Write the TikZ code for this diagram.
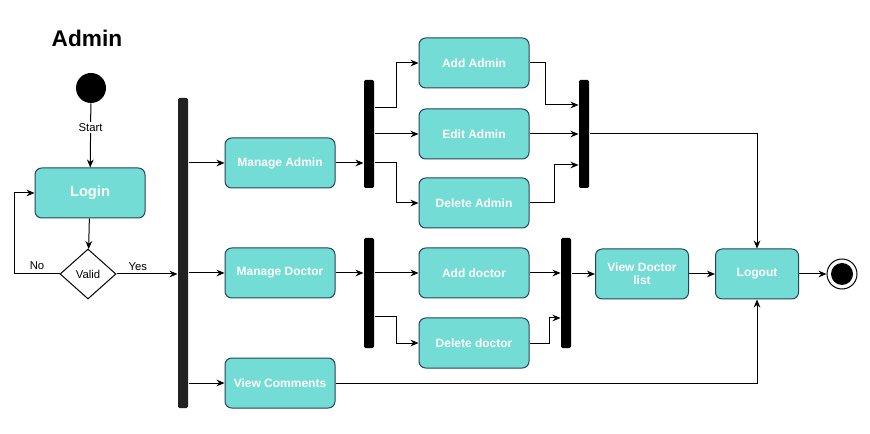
\documentclass[tikz,border=0pt]{standalone}
\usepackage{fontspec}
\setmainfont{Liberation Sans}
\usetikzlibrary{shapes.geometric, calc, arrows.meta}
\definecolor{boxfill}{HTML}{73DCD4}
\definecolor{boxline}{HTML}{23445D}
\definecolor{barfill}{HTML}{222222}

\begin{document}
\begin{tikzpicture}[x=0.75pt, y=-0.75pt, >={Stealth[length=6pt,width=5pt]}, line width=0.75pt,
    act/.style={draw=boxline, fill=boxfill, rounded corners=5pt, text=white, align=center,
      font=\fontsize{9}{10}\selectfont\bfseries, minimum width=82.5pt, minimum height=37.5pt, inner sep=1pt},
    bar/.style={fill=black, rounded corners=1pt, minimum width=7.5pt, inner sep=0pt},
    lbl/.style={font=\fontsize{8.5}{10}\selectfont, inner sep=1pt}]
  \useasboundingbox (0,0) rectangle (870,434);

  % ==================== LOGIN PART ====================
  \node[font=\fontsize{17}{20}\selectfont\bfseries] (title) at (87,38) {Admin};
  \node[circle, fill=black, minimum size=22.5pt, inner sep=0pt] (start) at (91,88) {};
  \node[act, font=\fontsize{11}{12}\selectfont\bfseries] (login) at (90,193) {Login};
  \node[diamond, draw, aspect=1.1, minimum width=42pt, minimum height=37.5pt, inner sep=0pt, lbl] (valid) at (88,274) {Valid};

  \draw[->] (start) -- node[lbl, fill=white, pos=0.38] {Start} (login);
  \draw[->] (login) -- (valid);
  \draw[->] (valid.west) -- node[lbl, above, yshift=2pt] {No} ++(-45,0) |- (login.west);

  % ==================== MAIN FORK ====================
  \node[bar, fill=barfill, minimum height=232.5pt] (fork) at (183,253) {};
  \draw[->] (valid.east) -- node[lbl, above, pos=0.35, yshift=1pt] {Yes} (valid.east -| fork.west);

  \node[act] (madmin) at (280,163) {Manage Admin};
  \node[act] (mdoc) at (280,273) {Manage Doctor};
  \node[act] (vcom) at (280,383) {View Comments};

  \draw[->] (fork.east |- madmin) -- (madmin);
  \draw[->] (fork.east |- mdoc) -- (mdoc);
  \draw[->] (fork.east |- vcom) -- (vcom);

  % ==================== ADMIN BRANCH ====================
  \node[bar, minimum height=81pt] (forkA) at (369,134) {};
  \node[bar, minimum height=81pt] (joinA) at (584,134) {};
  \node[act] (aadmin) at (474,63) {Add Admin};
  \node[act] (eadmin) at (474,134) {Edit Admin};
  \node[act] (dadmin) at (474,203) {Delete Admin};

  \draw[->] (madmin) -- (madmin -| forkA.west);
  \draw[->] ($(forkA.east)+(0,-26)$) -- ++(22,0) |- (aadmin.west);
  \draw[->] (forkA.east) -- (eadmin.west);
  \draw[->] (forkA.east |- madmin) -- ++(22,0) |- (dadmin.west);

  \draw[->] (aadmin.east) -- ++(16,0) |- ($(joinA.west)+(0,-29)$);
  \draw[->] (eadmin.east) -- (joinA.west);
  \draw[->] (dadmin.east) -- ++(25,0) |- ($(joinA.west)+(0,31)$);

  % ==================== DOCTOR BRANCH ====================
  \node[bar, minimum height=82.5pt] (forkD) at (369,293) {};
  \node[bar, minimum height=82.5pt] (joinD) at (566,293) {};
  \node[act] (adoc) at (474,273) {Add doctor};
  \node[act] (ddoc) at (474,343) {Delete doctor};

  \draw[->] (mdoc) -- (mdoc -| forkD.west);
  \draw[->] (forkD.east |- adoc) -- (adoc);
  \draw[->] ($(forkD.east)+(0,24)$) -- ++(22,0) |- (ddoc.west);
  \draw[->] (adoc) -- (adoc -| joinD.west);
  \draw[->] (ddoc.east) -- ++(20,0) |- ($(joinD.west)+(0,25)$);

  % ==================== END PART ====================
  \node[act, minimum width=69.75pt] (vdoc) at (642,274) {View Doctor\\list};
  \node[act, minimum width=62.25pt] (logout) at (757,274) {Logout};
  \node[circle, draw, minimum size=22.5pt, inner sep=0pt] (fin) at (842,274) {};
  \node[circle, fill=black, minimum size=16.5pt, inner sep=0pt] (findot) at (fin) {};

  \draw[->] (joinD.east |- vdoc) -- (vdoc);
  \draw[->] (vdoc) -- (logout);
  \draw[->] (logout) -- (fin);
  \draw[->] (joinA.east) -| (logout.north);
  \draw[->] (vcom) -| (logout.south);
\end{tikzpicture}
\end{document}
